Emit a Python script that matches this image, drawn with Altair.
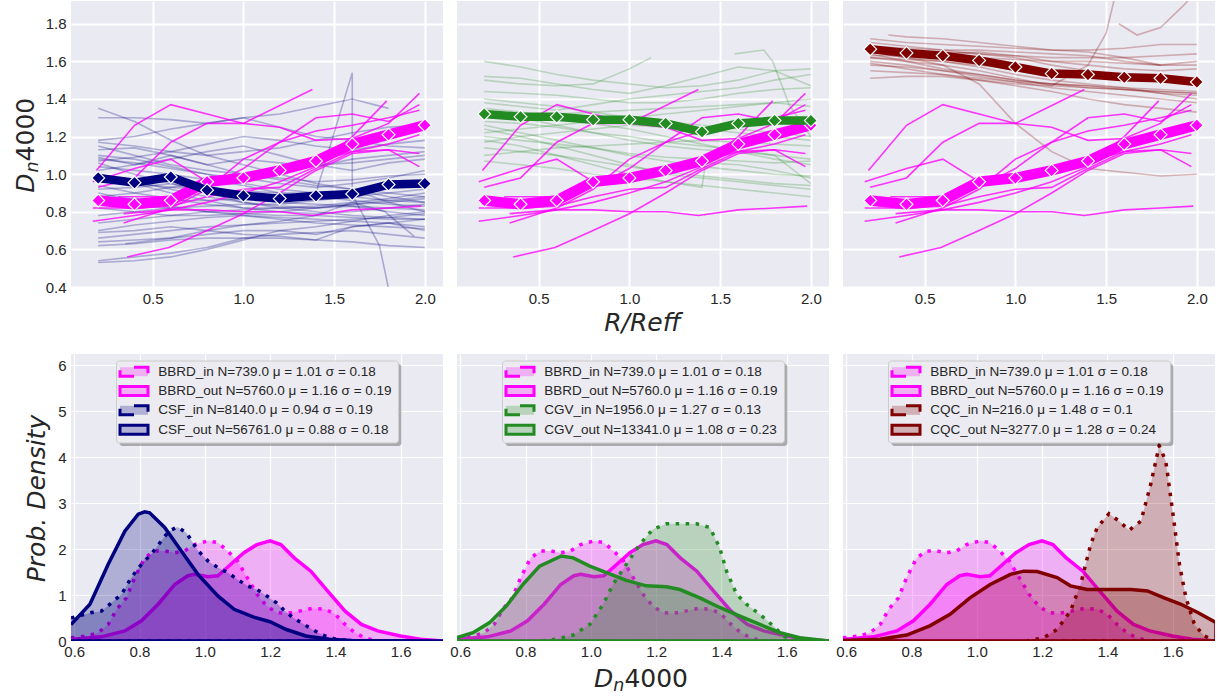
import altair as alt
import pandas as pd

# ---------------------------------------------------------------- data
R_GRID = [0.2, 0.4, 0.6, 0.8, 1.0, 1.2, 1.4, 1.6, 1.8, 2.0]

# mean radial Dn4000 profiles
BBRD_MEAN = [0.86, 0.84, 0.86, 0.96, 0.98, 1.02, 1.07, 1.16, 1.21, 1.26]
CSF_MEAN = [0.98, 0.955, 0.985, 0.915, 0.885, 0.87, 0.885, 0.895, 0.945, 0.95]
CGV_MEAN = [1.32, 1.305, 1.305, 1.29, 1.29, 1.27, 1.225, 1.27, 1.285, 1.285]
CQC_MEAN = [1.665, 1.645, 1.63, 1.605, 1.57, 1.535, 1.53, 1.515, 1.51, 1.49]

# individual galaxy profiles: (R/Reff, Dn4000)
BBRD_PROFILES = [
    ([0.19, 0.4, 0.6, 0.8, 1.0, 1.2, 1.4, 1.6, 1.8, 1.97], [1.02, 1.26, 1.37, 1.32, 1.27, 1.25, 1.18, 1.19, 1.27, 1.43]),
    ([0.2, 0.4, 0.6, 0.8, 1.0, 1.38], [0.93, 0.98, 1.17, 1.27, 1.27, 1.45]),
    ([0.17, 0.4, 0.6, 0.8, 1.0, 1.2, 1.4, 1.6, 1.8, 1.97], [0.96, 1.03, 1.08, 0.96, 0.97, 1.00, 1.07, 1.12, 1.13, 1.11]),
    ([0.36, 0.59, 0.8, 1.0, 1.2, 1.4, 1.6, 1.8, 1.97], [0.56, 0.61, 0.70, 0.79, 0.90, 1.02, 1.11, 1.13, 1.04]),
    ([0.34, 0.59, 0.8, 1.0, 1.2, 1.38, 1.6, 1.8, 1.98], [0.79, 0.81, 0.81, 0.80, 0.80, 0.78, 0.81, 0.82, 0.83]),
    ([0.17, 0.4, 0.6, 0.8, 1.0, 1.2, 1.4, 1.6, 1.8, 1.97], [0.82, 0.82, 0.83, 0.88, 0.92, 0.93, 1.03, 1.12, 1.16, 1.21]),
    ([0.17, 0.4, 0.6, 0.8, 1.0, 1.2, 1.4, 1.6, 1.79], [0.75, 0.78, 0.81, 0.85, 0.90, 0.96, 1.04, 1.20, 1.39]),
    ([0.31, 0.6, 0.8, 1.0, 1.2, 1.4, 1.6, 1.8, 1.97], [0.88, 0.88, 0.93, 1.03, 1.17, 1.30, 1.32, 1.28, 1.37]),
    ([0.34, 0.6, 0.8, 1.0, 1.2, 1.4, 1.6, 1.8, 1.97], [0.74, 0.82, 0.92, 1.08, 1.17, 1.23, 1.26, 1.30, 1.34]),
]

CSF_PROFILES = [
    (R_GRID, [1.35, 1.28, 1.18, 1.10, 1.05, 1.00, 0.95, 0.92, 0.88, 0.85]),
    (R_GRID, [1.30, 1.30, 1.29, 1.27, 1.30, 1.25, 1.20, 1.18, 1.15, 1.14]),
    (R_GRID[:9], [1.18, 1.20, 1.24, 1.27, 1.30, 1.32, 1.36, 1.40, 1.35]),
    (R_GRID, [1.17, 1.15, 1.12, 1.10, 1.12, 1.14, 1.18, 1.22, 1.25, 1.26]),
    (R_GRID, [1.15, 1.10, 1.05, 1.02, 1.00, 0.98, 0.96, 0.97, 0.99, 1.00]),
    (R_GRID, [1.13, 1.14, 1.10, 1.05, 1.08, 1.06, 1.04, 1.08, 1.10, 1.12]),
    (R_GRID, [1.10, 1.08, 1.04, 1.00, 0.95, 0.92, 0.90, 0.88, 0.86, 0.85]),
    (R_GRID, [1.09, 1.05, 1.08, 1.12, 1.15, 1.10, 1.05, 1.02, 1.06, 1.08]),
    (R_GRID, [1.08, 1.06, 1.03, 1.00, 0.98, 0.95, 0.93, 0.95, 0.98, 1.02]),
    (R_GRID, [1.07, 1.09, 1.12, 1.16, 1.20, 1.18, 1.15, 1.13, 1.16, 1.18]),
    (R_GRID, [1.06, 1.00, 0.95, 0.90, 0.85, 0.82, 0.80, 0.78, 0.77, 0.76]),
    (R_GRID, [1.04, 1.02, 1.00, 0.97, 0.94, 0.90, 0.88, 0.86, 0.84, 0.83]),
    (R_GRID, [1.02, 1.05, 1.10, 1.05, 1.00, 0.97, 0.94, 0.92, 0.90, 0.88]),
    (R_GRID, [1.00, 0.96, 0.92, 0.88, 0.85, 0.83, 0.82, 0.84, 0.86, 0.88]),
    (R_GRID, [0.97, 0.95, 0.90, 0.86, 0.82, 0.80, 0.79, 0.80, 0.82, 0.84]),
    (R_GRID, [0.94, 0.90, 0.87, 0.84, 0.82, 0.82, 0.83, 0.85, 0.87, 0.90]),
    (R_GRID, [0.92, 0.93, 0.95, 0.92, 0.88, 0.85, 0.84, 0.83, 0.80, 0.78]),
    (R_GRID, [0.90, 0.86, 0.83, 0.80, 0.78, 0.77, 0.76, 0.75, 0.74, 0.72]),
    (R_GRID, [0.88, 0.90, 0.93, 0.96, 0.99, 1.02, 1.05, 1.06, 1.08, 1.10]),
    (R_GRID, [0.85, 0.83, 0.82, 0.80, 0.79, 0.78, 0.78, 0.77, 0.76, 0.76]),
    (R_GRID, [0.82, 0.80, 0.78, 0.78, 0.79, 0.80, 0.82, 0.84, 0.85, 0.87]),
    (R_GRID, [0.78, 0.80, 0.82, 0.83, 0.84, 0.84, 0.86, 0.88, 0.90, 0.92]),
    (R_GRID, [0.74, 0.76, 0.78, 0.80, 0.81, 0.82, 0.82, 0.83, 0.82, 0.81]),
    (R_GRID, [0.70, 0.73, 0.75, 0.77, 0.78, 0.76, 0.74, 0.73, 0.72, 0.71]),
    (R_GRID, [0.66, 0.68, 0.70, 0.72, 0.73, 0.74, 0.75, 0.76, 0.77, 0.79]),
    (R_GRID, [0.64, 0.65, 0.66, 0.68, 0.70, 0.70, 0.68, 0.72, 0.74, 0.70]),
    (R_GRID, [0.62, 0.63, 0.65, 0.66, 0.66, 0.66, 0.65, 0.64, 0.62, 0.61]),
    (R_GRID, [0.54, 0.56, 0.58, 0.61, 0.66, 0.68, 0.69, 0.70, 0.68, 0.66]),
    (R_GRID, [0.53, 0.54, 0.56, 0.60, 0.65, 0.70, 0.72, 0.75, 0.78, 0.80]),
    ([0.2, 0.4, 0.6, 0.8, 1.0, 1.2, 1.4, 1.6, 1.6, 1.8, 2.0], [0.88, 0.87, 0.86, 0.86, 0.87, 0.88, 0.90, 1.54, 0.92, 0.85, 0.80]),
    ([0.2, 0.4, 0.6, 0.8, 1.0, 1.2, 1.4, 1.6, 1.75, 1.82], [0.96, 0.95, 0.93, 0.92, 0.91, 0.90, 0.90, 0.89, 0.62, 0.30]),
    ([0.35, 0.6, 0.8, 1.0, 1.2, 1.4, 1.6, 1.78, 1.94], [0.63, 0.66, 0.70, 0.73, 0.75, 0.78, 0.85, 0.80, 0.67]),
    (R_GRID, [0.69, 0.70, 0.72, 0.70, 0.68, 0.67, 0.65, 0.72, 0.74, 0.76]),
]

CGV_PROFILES = [
    (R_GRID, [1.60, 1.57, 1.53, 1.50, 1.48, 1.46, 1.47, 1.50, 1.55, 1.56]),
    (R_GRID, [1.52, 1.51, 1.48, 1.45, 1.43, 1.47, 1.52, 1.57, 1.55, 1.47]),
    ([0.2, 0.4, 0.6, 0.8, 1.0, 1.12], [1.50, 1.48, 1.47, 1.48, 1.56, 1.62]),
    (R_GRID, [1.44, 1.43, 1.42, 1.40, 1.38, 1.38, 1.40, 1.43, 1.45, 1.46]),
    (R_GRID, [1.40, 1.38, 1.36, 1.33, 1.30, 1.28, 1.26, 1.24, 1.22, 1.20]),
    (R_GRID, [1.38, 1.36, 1.34, 1.37, 1.40, 1.42, 1.44, 1.46, 1.50, 1.53]),
    (R_GRID, [1.35, 1.33, 1.30, 1.27, 1.24, 1.20, 1.16, 1.12, 1.08, 1.05]),
    (R_GRID, [1.33, 1.30, 1.26, 1.22, 1.18, 1.15, 1.13, 1.12, 1.10, 1.08]),
    (R_GRID, [1.30, 1.31, 1.32, 1.33, 1.34, 1.35, 1.36, 1.37, 1.38, 1.40]),
    (R_GRID, [1.28, 1.27, 1.25, 1.22, 1.20, 1.17, 1.15, 1.13, 1.10, 0.95]),
    (R_GRID, [1.26, 1.22, 1.18, 1.14, 1.10, 1.07, 1.04, 1.02, 1.00, 0.99]),
    (R_GRID, [1.24, 1.20, 1.15, 1.10, 1.05, 1.00, 0.98, 0.96, 0.94, 0.92]),
    (R_GRID, [1.22, 1.24, 1.26, 1.28, 1.30, 1.32, 1.34, 1.36, 1.38, 1.36]),
    (R_GRID, [1.20, 1.18, 1.16, 1.14, 1.11, 1.09, 1.08, 1.07, 1.06, 1.07]),
    (R_GRID, [1.17, 1.20, 1.22, 1.24, 1.26, 1.25, 1.24, 1.22, 1.20, 1.18]),
    (R_GRID, [1.14, 1.12, 1.10, 1.07, 1.04, 1.01, 0.99, 0.97, 0.95, 0.94]),
    (R_GRID, [1.10, 1.12, 1.14, 1.15, 1.16, 1.17, 1.18, 1.17, 1.16, 1.15]),
    (R_GRID, [1.07, 1.05, 1.03, 1.00, 0.98, 0.96, 0.94, 0.92, 0.90, 0.88]),
    ([1.58, 1.74, 1.79, 1.88, 2.0], [1.64, 1.66, 1.60, 1.37, 1.20]),
    ([0.2, 0.4, 0.6, 0.8, 1.0, 1.2, 1.4, 1.42, 1.6, 1.8, 2.0], [1.18, 1.15, 1.10, 1.05, 1.00, 0.96, 0.93, 1.06, 1.05, 1.02, 0.98]),
]

CQC_PROFILES = [
    (R_GRID, [1.72, 1.70, 1.69, 1.68, 1.67, 1.66, 1.66, 1.67, 1.69, 1.69]),
    ([0.3, 0.4, 0.6, 0.8, 1.0, 1.2, 1.4, 1.6, 1.8], [1.74, 1.73, 1.72, 1.70, 1.68, 1.66, 1.65, 1.62, 1.58]),
    (R_GRID, [1.70, 1.68, 1.66, 1.64, 1.62, 1.58, 1.55, 1.52, 1.50, 1.48]),
    (R_GRID, [1.68, 1.67, 1.66, 1.66, 1.65, 1.64, 1.63, 1.60, 1.58, 1.60]),
    (R_GRID, [1.66, 1.65, 1.64, 1.62, 1.61, 1.60, 1.60, 1.59, 1.58, 1.58]),
    (R_GRID, [1.65, 1.62, 1.60, 1.57, 1.53, 1.50, 1.48, 1.46, 1.43, 1.40]),
    (R_GRID, [1.64, 1.60, 1.56, 1.53, 1.50, 1.48, 1.47, 1.46, 1.45, 1.44]),
    (R_GRID, [1.62, 1.61, 1.60, 1.58, 1.56, 1.55, 1.53, 1.52, 1.50, 1.50]),
    (R_GRID, [1.60, 1.58, 1.55, 1.52, 1.49, 1.46, 1.44, 1.42, 1.40, 1.38]),
    (R_GRID, [1.58, 1.57, 1.55, 1.53, 1.50, 1.48, 1.46, 1.45, 1.43, 1.42]),
    (R_GRID, [1.55, 1.54, 1.53, 1.51, 1.49, 1.48, 1.47, 1.45, 1.44, 1.43]),
    (R_GRID, [1.51, 1.52, 1.52, 1.50, 1.48, 1.47, 1.46, 1.45, 1.44, 1.43]),
    (R_GRID, [1.65, 1.62, 1.58, 1.48, 1.27, 1.12, 1.03, 1.01, 0.99, 1.00]),
    ([0.2, 0.4, 0.6, 0.8, 1.0, 1.2, 1.4, 1.5, 1.55], [1.62, 1.60, 1.58, 1.55, 1.51, 1.47, 1.58, 1.75, 1.95]),
    ([1.57, 1.67, 1.8, 1.93, 2.0], [1.80, 1.74, 1.78, 1.90, 1.98]),
    (R_GRID, [1.67, 1.66, 1.65, 1.64, 1.63, 1.62, 1.62, 1.62, 1.63, 1.64]),
    (R_GRID, [1.63, 1.63, 1.64, 1.65, 1.63, 1.60, 1.58, 1.56, 1.55, 1.56]),
    (R_GRID, [1.59, 1.56, 1.53, 1.50, 1.47, 1.44, 1.40, 1.37, 1.35, 1.33]),
]

# kernel density estimates of Dn4000 (x, density)
BBRD_IN_X = [0.59, 0.64, 0.673, 0.704, 0.73, 0.76, 0.785, 0.816, 0.846, 0.877, 0.908, 0.938, 0.969, 1.01, 1.04,
             1.07, 1.10, 1.13, 1.16, 1.19, 1.22, 1.25, 1.29, 1.33, 1.37, 1.40, 1.43, 1.46, 1.49, 1.52, 1.56]
BBRD_IN_D = [0.07, 0.11, 0.18, 0.36, 0.69, 0.94, 1.38, 1.81, 1.96, 1.96, 1.92, 1.96, 2.10, 2.18, 2.14,
             1.96, 1.74, 1.38, 1.02, 0.76, 0.62, 0.60, 0.65, 0.71, 0.69, 0.58, 0.36, 0.18, 0.07, 0.01, 0.0]
BBRD_OUT_X = [0.59, 0.683, 0.755, 0.806, 0.857, 0.908, 0.948, 0.969, 1.01, 1.04, 1.08, 1.12, 1.16, 1.20,
              1.233, 1.274, 1.325, 1.376, 1.43, 1.48, 1.53, 1.60, 1.66, 1.73]
BBRD_OUT_D = [0.03, 0.09, 0.22, 0.44, 0.80, 1.23, 1.42, 1.45, 1.40, 1.42, 1.67, 1.92, 2.10, 2.18,
              2.10, 1.81, 1.52, 1.09, 0.65, 0.36, 0.22, 0.11, 0.04, 0.0]
CSF_IN_X = [0.59, 0.653, 0.683, 0.714, 0.745, 0.775, 0.806, 0.836, 0.867, 0.89, 0.916, 0.943, 0.98, 1.01, 1.04,
            1.07, 1.10, 1.13, 1.16, 1.19, 1.22, 1.24, 1.27, 1.30, 1.33, 1.36, 1.40, 1.45]
CSF_IN_D = [0.50, 0.62, 0.65, 0.83, 1.02, 1.38, 1.67, 1.89, 2.18, 2.39, 2.48, 2.36, 1.96, 1.74, 1.60,
            1.49, 1.34, 1.20, 1.12, 0.98, 0.83, 0.69, 0.51, 0.38, 0.25, 0.13, 0.04, 0.0]
CSF_OUT_X = [0.59, 0.648, 0.704, 0.755, 0.796, 0.816, 0.831, 0.877, 0.928, 0.979, 1.04, 1.09, 1.15, 1.20,
             1.25, 1.31, 1.38, 1.45, 1.73]
CSF_OUT_D = [0.36, 0.80, 1.67, 2.39, 2.76, 2.81, 2.79, 2.47, 1.96, 1.45, 0.98, 0.69, 0.52, 0.42,
             0.25, 0.11, 0.04, 0.01, 0.0]
CGV_IN_X = [0.85, 0.894, 0.946, 0.997, 1.038, 1.068, 1.109, 1.15, 1.19, 1.232, 1.273, 1.324, 1.365, 1.395,
            1.416, 1.447, 1.477, 1.518, 1.559, 1.59, 1.61, 1.64]
CGV_IN_D = [0.0, 0.04, 0.13, 0.36, 0.80, 1.23, 1.67, 2.10, 2.43, 2.55, 2.55, 2.55, 2.47, 2.03,
            1.52, 1.02, 0.80, 0.58, 0.33, 0.11, 0.04, 0.0]
CGV_OUT_X = [0.588, 0.639, 0.69, 0.741, 0.792, 0.843, 0.91, 0.946, 0.997, 1.048, 1.109, 1.17, 1.232, 1.273,
             1.334, 1.395, 1.457, 1.518, 1.58, 1.64, 1.73]
CGV_OUT_D = [0.07, 0.18, 0.40, 0.76, 1.23, 1.63, 1.85, 1.81, 1.63, 1.49, 1.32, 1.20, 1.18, 1.12,
             0.94, 0.73, 0.54, 0.36, 0.18, 0.07, 0.0]
CQC_IN_X = [1.15, 1.205, 1.246, 1.287, 1.318, 1.349, 1.369, 1.405, 1.436, 1.467, 1.503, 1.533, 1.559, 1.579,
            1.60, 1.621, 1.641, 1.667, 1.697, 1.728]
CQC_IN_D = [0.0, 0.07, 0.25, 0.65, 1.23, 2.10, 2.47, 2.77, 2.61, 2.41, 2.61, 3.41, 4.25, 3.92,
            2.83, 1.67, 0.94, 0.36, 0.11, 0.01]
CQC_OUT_X = [0.59, 0.703, 0.785, 0.856, 0.918, 0.979, 1.041, 1.103, 1.144, 1.185, 1.246, 1.287, 1.338, 1.40,
             1.472, 1.523, 1.574, 1.626, 1.677, 1.733]
CQC_OUT_D = [0.01, 0.04, 0.13, 0.33, 0.58, 0.94, 1.23, 1.45, 1.52, 1.51, 1.38, 1.20, 1.12, 1.12,
             1.12, 1.09, 0.94, 0.80, 0.62, 0.40]

# sample statistics: name, N, mean, sigma
STATS = {
    "BBRD_in": (739.0, 1.01, 0.18),
    "BBRD_out": (5760.0, 1.16, 0.19),
    "CSF_in": (8140.0, 0.94, 0.19),
    "CSF_out": (56761.0, 0.88, 0.18),
    "CGV_in": (1956.0, 1.27, 0.13),
    "CGV_out": (13341.0, 1.08, 0.23),
    "CQC_in": (216.0, 1.48, 0.1),
    "CQC_out": (3277.0, 1.28, 0.24),
}

MAGENTA = "#FF00FF"
NAVY = "#000080"
GREEN = "#228B22"
MAROON = "#800000"
TEXT = "#262626"
BG = "#EAEAF2"

PW, TOP_H, BOT_H = 372, 286, 287
ONE = pd.DataFrame({"k": [0]})


# ---------------------------------------------------------------- helpers
def profiles_frame(profiles):
    rows = []
    for i, (rs, vs) in enumerate(profiles):
        for k, (r, v) in enumerate(zip(rs, vs)):
            rows.append({"id": i, "k": k, "r": r, "v": v})
    return pd.DataFrame(rows)


def mean_frame(values):
    return pd.DataFrame({"r": R_GRID, "v": values})


def axis(values, fmt, labels, grid_w, pad):
    return alt.Axis(values=values, format=fmt, labels=labels, title=None, grid=True,
                    gridColor="white", gridWidth=grid_w, domain=False, ticks=False, tickSize=0,
                    labelFont="Liberation Sans", labelFontSize=15, labelColor=TEXT,
                    labelPadding=pad)


X_TOP = alt.X("r:Q", scale=alt.Scale(domain=[0.05, 2.1], nice=False, zero=False),
              axis=axis([0.5, 1.0, 1.5, 2.0], ".1f", True, 2, 4))


def y_top(labels):
    return alt.Y("v:Q", scale=alt.Scale(domain=[0.4, 1.921], nice=False, zero=False),
                 axis=axis([0.4, 0.6, 0.8, 1.0, 1.2, 1.4, 1.6, 1.8], ".1f", labels, 2, 5))


X_BOT = alt.X("x:Q", scale=alt.Scale(domain=[0.59, 1.73], nice=False, zero=False),
              axis=axis([0.6, 0.8, 1.0, 1.2, 1.4, 1.6], ".1f", True, 1.2, 3))


def y_bot(labels):
    return alt.Y("d:Q", scale=alt.Scale(domain=[0, 6.246], nice=False, zero=False),
                 axis=axis([0, 1, 2, 3, 4, 5, 6], "d", labels, 1.2, 5))


def text_mark(text, x, y, size, italic=True, angle=0, align="left"):
    return alt.Chart(pd.DataFrame({"t": [text]})).mark_text(
        font="DejaVu Sans", fontSize=size, fontStyle="italic" if italic else "normal",
        angle=angle, align=align, baseline="alphabetic", color=TEXT,
    ).encode(text="t:N", x=alt.value(x), y=alt.value(y))


def top_panel(profiles, mean, color, alpha, labels, extra):
    y = y_top(labels)
    layers = [
        alt.Chart(profiles_frame(profiles)).mark_line(
            color=color, opacity=alpha, strokeWidth=1.6, clip=True
        ).encode(x=X_TOP, y=y, detail="id:N", order="k:Q"),
        alt.Chart(profiles_frame(BBRD_PROFILES)).mark_line(
            color=MAGENTA, opacity=0.78, strokeWidth=1.6, clip=True
        ).encode(x=X_TOP, y=y, detail="id:N", order="k:Q"),
        alt.Chart(mean_frame(BBRD_MEAN)).mark_line(
            color=MAGENTA, strokeWidth=10.5, strokeJoin="round"
        ).encode(x=X_TOP, y=y),
        alt.Chart(mean_frame(BBRD_MEAN)).mark_point(
            shape="diamond", filled=True, fill=MAGENTA, stroke="white", strokeWidth=1.2,
            size=165, opacity=1
        ).encode(x=X_TOP, y=y),
        alt.Chart(mean_frame(mean)).mark_line(
            color=color, strokeWidth=8.5, strokeJoin="round"
        ).encode(x=X_TOP, y=y),
        alt.Chart(mean_frame(mean)).mark_point(
            shape="diamond", filled=True, fill=color, stroke="white", strokeWidth=1.2,
            size=165, opacity=1
        ).encode(x=X_TOP, y=y),
    ]
    return alt.layer(*layers, *extra).properties(width=PW, height=TOP_H)


def kde_layers(xs, ds, color, dotted, y):
    fill = alt.Chart(pd.DataFrame({"x": xs, "d": ds})).mark_area(
        color=color, opacity=0.25, clip=True
    ).encode(x=X_BOT, y=y)
    # outline of the filled region: the curve, then back along the baseline
    ox = list(xs) + [xs[-1], xs[0]]
    od = list(ds) + [0.0, 0.0]
    outline = pd.DataFrame({"x": ox, "d": od, "k": list(range(len(ox)))})
    style = dict(color=color, strokeWidth=3.5, clip=True)
    if dotted:
        style.update(strokeDash=[3.5, 6.5], strokeCap="butt")
    line = alt.Chart(outline).mark_line(**style).encode(x=X_BOT, y=y, order="k:Q")
    return [fill, line]


def legend_layers(rows):
    bx, by, bw, bh = 45.5, 7.0, 282.0, 82.0
    row_y = [10.7, 30.0, 49.3, 68.7]
    out = [
        alt.Chart(ONE).mark_rect(color="#000000", opacity=0.28, cornerRadius=3).encode(
            x=alt.value(bx + 3), x2=alt.value(bx + bw + 3),
            y=alt.value(by + 3), y2=alt.value(by + bh + 3)),
        alt.Chart(ONE).mark_rect(fill="#EBEBF1", fillOpacity=1, stroke="#CCCCCC",
                                 strokeWidth=1, cornerRadius=3).encode(
            x=alt.value(bx), x2=alt.value(bx + bw), y=alt.value(by), y2=alt.value(by + bh)),
    ]
    for (name, color, dotted), ry in zip(rows, row_y):
        cy = by + ry
        n, mu, sig = STATS[name]
        label = f"{name} N={n:.1f} \u03bc = {mu} \u03c3 = {sig}"
        handle = dict(fill=color, fillOpacity=0.25, stroke=color, strokeWidth=3)
        if dotted:
            handle.update(strokeDash=[20, 17], strokeDashOffset=23)
        out.append(alt.Chart(ONE).mark_rect(**handle).encode(
            x=alt.value(bx + 3.5), x2=alt.value(bx + 31.5),
            y=alt.value(cy - 4.5), y2=alt.value(cy + 4.5)))
        out.append(alt.Chart(pd.DataFrame({"t": [label]})).mark_text(
            font="Liberation Sans", fontSize=13.5, align="left", baseline="middle", color=TEXT
        ).encode(text="t:N", x=alt.value(bx + 41.7), y=alt.value(cy)))
    return out


def bottom_panel(group, in_x, in_d, out_x, out_d, color, labels, extra):
    y = y_bot(labels)
    layers = (
        kde_layers(BBRD_IN_X, BBRD_IN_D, MAGENTA, True, y)
        + kde_layers(BBRD_OUT_X, BBRD_OUT_D, MAGENTA, False, y)
        + kde_layers(in_x, in_d, color, True, y)
        + kde_layers(out_x, out_d, color, False, y)
    )
    rows = [("BBRD_in", MAGENTA, True), ("BBRD_out", MAGENTA, False),
            (f"{group}_in", color, True), (f"{group}_out", color, False)]
    return alt.layer(*layers, *legend_layers(rows), *extra).properties(width=PW, height=BOT_H)


# ---------------------------------------------------------------- titles
ylabel_top = [
    text_mark("D", -37, 191.7, 25, angle=270),
    text_mark("n", -33, 171.5, 17.5, angle=270),
    text_mark("4000", -37, 160.4, 25, italic=False, angle=270),
]
# keeps the left margin of the figure fixed
left_edge = alt.Chart(ONE).mark_rule(color="white").encode(
    x=alt.value(-70), y=alt.value(0), y2=alt.value(1))

xlabel_top = [text_mark("R/Reff", 185.5, 330, 25, align="center")]
ylabel_bot = [text_mark("Prob. Density", -26, 144.5, 25, angle=270, align="center")]
xlabel_bot = [
    text_mark("D", 137, 333, 25),
    text_mark("n", 156.3, 337, 17.5),
    text_mark("4000", 167.4, 333, 25, italic=False),
]

panels = [
    top_panel(CSF_PROFILES, CSF_MEAN, NAVY, 0.28, True, ylabel_top + [left_edge]),
    top_panel(CGV_PROFILES, CGV_MEAN, GREEN, 0.25, False, xlabel_top),
    top_panel(CQC_PROFILES, CQC_MEAN, MAROON, 0.27, False, []),
    bottom_panel("CSF", CSF_IN_X, CSF_IN_D, CSF_OUT_X, CSF_OUT_D, NAVY, True, ylabel_bot),
    bottom_panel("CGV", CGV_IN_X, CGV_IN_D, CGV_OUT_X, CGV_OUT_D, GREEN, False, xlabel_bot),
    bottom_panel("CQC", CQC_IN_X, CQC_IN_D, CQC_OUT_X, CQC_OUT_D, MAROON, False, []),
]

chart = (
    alt.concat(*panels, columns=3, spacing=alt.RowColnumber(row=67, column=14), bounds="flush")
    .properties(padding={"left": 0, "top": 0, "right": 5, "bottom": 4}, background="white")
    .configure_view(fill=BG, stroke=None)
)

chart.save("out.html", embed_options={"renderer": "svg", "actions": False})
